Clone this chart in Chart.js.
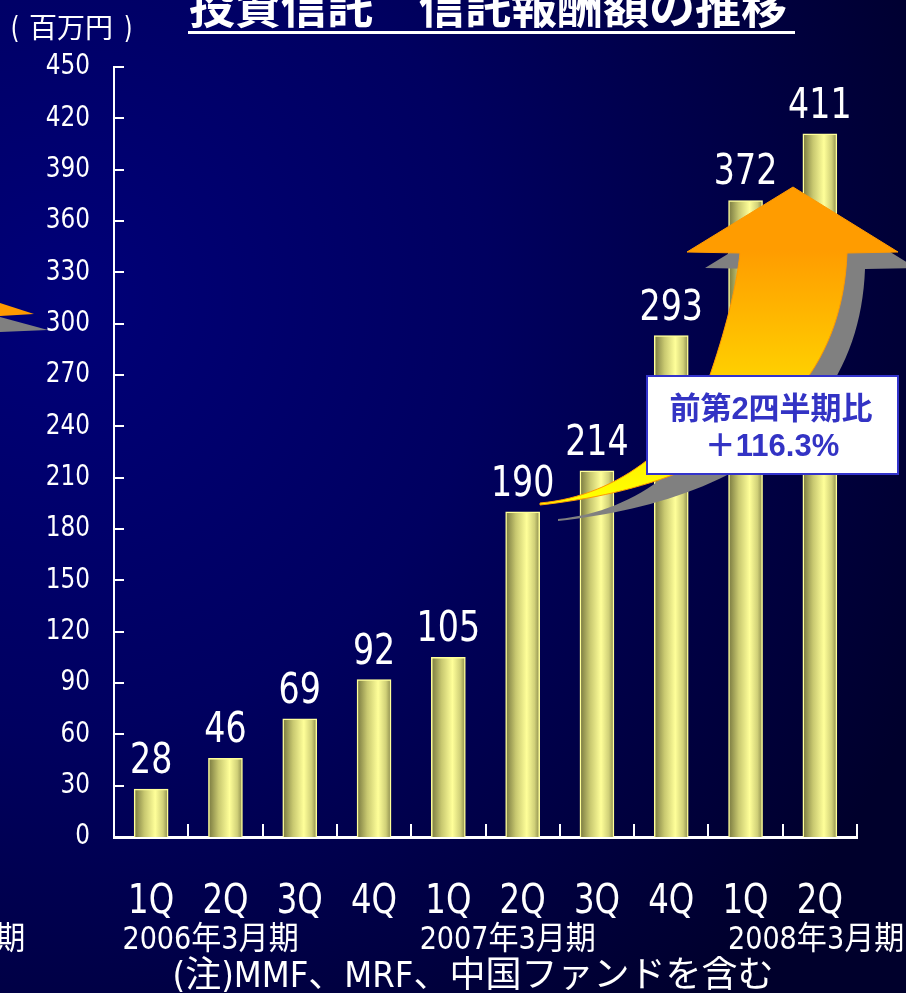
<!DOCTYPE html>
<html lang="ja">
<head>
<meta charset="utf-8">
<title>投資信託 信託報酬額の推移</title>
<script src="https://cdn.jsdelivr.net/npm/chart.js@4/dist/chart.umd.min.js"></script>
<style>
  html, body { margin: 0; padding: 0; background: #000050; }
  #wrap { width: 906px; height: 993px; position: relative; }
</style>
</head>
<body>
<div id="wrap"><canvas id="fee" width="906" height="993"></canvas></div>
<script>
// quarters and trust fee amounts (million yen)
const quarters = ['1Q', '2Q', '3Q', '4Q', '1Q', '2Q', '3Q', '4Q', '1Q', '2Q'];
const feeValues = [28, 46, 69, 92, 105, 190, 214, 293, 372, 411];
const yTicks = [0, 30, 60, 90, 120, 150, 180, 210, 240, 270, 300, 330, 360, 390, 420, 450];
// fiscal year captions, anchored at category positions
const fiscalYears = ['2005年3月期', '2006年3月期', '2007年3月期', '2008年3月期'];
const fiscalYearAt = [-2.88, 0.8, 4.8, 8.95];

const NUM_FONT = '"DejaVu Sans Condensed", "Noto Sans CJK JP", sans-serif';
const JP_FONT = '"Noto Sans CJK JP", "Liberation Sans", sans-serif';

// narrow the glyphs a little, the slide used a condensed gothic
const squeezeText = (ctx, text, x, y, sx) => {
    ctx.save();
    ctx.translate(x, y);
    ctx.scale(sx, 1);
    ctx.fillText(text, 0, 0);
    ctx.restore();
};

const background = {
    id: 'background',
    beforeDraw(chart) {
        const { ctx, width, height } = chart;
        const g = ctx.createRadialGradient(60, 300, 0, 60, 300, 950);
        g.addColorStop(0, '#000078');
        g.addColorStop(0.45, '#000060');
        g.addColorStop(1, '#00002c');
        ctx.save();
        ctx.fillStyle = g;
        ctx.fillRect(0, 0, width, height);
        ctx.restore();
    }
};

// tick marks pointing into the plot, plus the y labels
const axisMarks = {
    id: 'axisMarks',
    afterDatasetsDraw(chart) {
        const { ctx, scales: { x, y } } = chart;
        ctx.save();
        ctx.strokeStyle = '#ffffff';
        ctx.lineWidth = 2;
        ctx.beginPath();
        yTicks.forEach(v => {
            const py = Math.round(y.getPixelForValue(v));
            ctx.moveTo(x.left, py);
            ctx.lineTo(x.left + 10, py);
        });
        for (let i = 0; i <= quarters.length; i++) {
            const px = Math.round(x.getPixelForValue(i - 0.5));
            ctx.moveTo(px, y.bottom);
            ctx.lineTo(px, y.bottom - 13);
        }
        ctx.stroke();

        ctx.fillStyle = '#ffffff';
        ctx.font = '28px ' + NUM_FONT;
        ctx.textAlign = 'right';
        ctx.textBaseline = 'middle';
        yTicks.forEach(v => {
            squeezeText(ctx, String(v), 90, y.getPixelForValue(v), 0.92);
        });
        ctx.restore();
    }
};

const drawArrowShape = (ctx, dx, dy) => {
    ctx.beginPath();
    ctx.moveTo(540 + dx, 503 + dy);
    ctx.bezierCurveTo(620 + dx, 496 + dy, 688 + dx, 440 + dy, 711 + dx, 372 + dy);
    ctx.bezierCurveTo(728 + dx, 322 + dy, 737 + dx, 282 + dy, 740 + dx, 253 + dy);
    ctx.lineTo(687 + dx, 252 + dy);
    ctx.lineTo(793 + dx, 187 + dy);
    ctx.lineTo(898 + dx, 252 + dy);
    ctx.lineTo(847 + dx, 253 + dy);
    ctx.bezierCurveTo(845 + dx, 305 + dy, 830 + dx, 350 + dy, 800 + dx, 388 + dy);
    ctx.bezierCurveTo(740 + dx, 462 + dy, 640 + dx, 494 + dy, 540 + dx, 505 + dy);
    ctx.closePath();
};

const annotations = {
    id: 'annotations',
    afterDraw(chart) {
        const { ctx, scales: { x } } = chart;
        ctx.save();

        // arrow head coming in from the left edge
        ctx.fillStyle = '#ff9900';
        ctx.beginPath();
        ctx.moveTo(0, 303); ctx.lineTo(34, 314); ctx.lineTo(0, 316); ctx.closePath();
        ctx.fill();
        ctx.fillStyle = '#808080';
        ctx.beginPath();
        ctx.moveTo(0, 317); ctx.lineTo(48, 330); ctx.lineTo(0, 332); ctx.closePath();
        ctx.fill();

        // growth arrow with its shadow
        ctx.fillStyle = '#808080';
        drawArrowShape(ctx, 18, 16);
        ctx.fill();
        const g = ctx.createLinearGradient(0, 495, 0, 250);
        g.addColorStop(0, '#ffff00');
        g.addColorStop(0.35, '#ffdd00');
        g.addColorStop(1, '#ff9c00');
        ctx.fillStyle = g;
        drawArrowShape(ctx, 0, 0);
        ctx.fill();
        ctx.strokeStyle = '#ff9900';
        ctx.lineWidth = 1;
        ctx.stroke();

        // callout box
        ctx.fillStyle = '#ffffff';
        ctx.fillRect(647, 376, 251, 98);
        ctx.strokeStyle = '#3333cc';
        ctx.lineWidth = 2;
        ctx.strokeRect(647, 376, 251, 98);
        ctx.fillStyle = '#3333c4';
        ctx.textAlign = 'center';
        ctx.textBaseline = 'middle';
        ctx.font = 'bold 31px "Liberation Sans", "Noto Sans CJK JP", sans-serif';
        ctx.fillText('前第2四半期比', 771, 410);
        ctx.fillText('＋116.3%', 772, 447);

        // value labels above the bars
        ctx.fillStyle = '#ffffff';
        ctx.textBaseline = 'alphabetic';
        ctx.font = '42px ' + NUM_FONT;
        const meta = chart.getDatasetMeta(0);
        meta.data.forEach((bar, i) => {
            squeezeText(ctx, String(feeValues[i]), bar.x, bar.y - 16, 0.88);
        });

        // quarter labels
        ctx.font = '40px ' + NUM_FONT;
        quarters.forEach((q, i) => {
            squeezeText(ctx, q, x.getPixelForValue(i), 913, 0.9);
        });

        // fiscal year labels
        ctx.font = '32px ' + NUM_FONT;
        fiscalYears.forEach((t, i) => {
            squeezeText(ctx, t, x.getPixelForValue(fiscalYearAt[i]), 949, 0.94);
        });

        // footnote
        ctx.font = '36px ' + NUM_FONT;
        ctx.fillText('(注)MMF、MRF、中国ファンドを含む', 473, 987);

        // unit and title
        ctx.font = '31px ' + NUM_FONT;
        squeezeText(ctx, '(', 15, 38, 0.8);
        squeezeText(ctx, ')', 128, 38, 0.8);
        ctx.font = '28px ' + JP_FONT;
        ctx.fillText('百万円', 71, 38);
        ctx.textAlign = 'left';
        ctx.font = 'bold 46px ' + JP_FONT;
        ctx.fillText('投資信託　信託報酬額の推移', 189, 23);
        ctx.fillRect(188, 31, 607, 3);

        ctx.restore();
    }
};

const barFill = (c) => {
    const chart = c.chart;
    if (!chart.chartArea || c.type !== 'data') return '#e8e88a';
    const cx = chart.scales.x.getPixelForValue(c.dataIndex);
    const g = chart.ctx.createLinearGradient(cx - 17, 0, cx + 17, 0);
    g.addColorStop(0, '#77773f');
    g.addColorStop(0.3, '#c8c870');
    g.addColorStop(0.62, '#ffff99');
    g.addColorStop(0.85, '#d0d078');
    g.addColorStop(1, '#8a8a4c');
    return g;
};

new Chart(document.getElementById('fee'), {
    type: 'bar',
    data: {
        labels: quarters,
        datasets: [{
            data: feeValues,
            backgroundColor: barFill,
            borderColor: '#ffff99',
            borderWidth: 1.5,
            borderSkipped: 'bottom',
            barThickness: 34
        }]
    },
    options: {
        responsive: false,
        animation: false,
        events: [],
        layout: { padding: { top: 67, right: 49, left: 0, bottom: 0 } },
        plugins: { legend: { display: false }, tooltip: { enabled: false } },
        scales: {
            x: {
                offset: true,
                grid: { display: false },
                border: { display: true, color: '#ffffff', width: 3 },
                ticks: { display: false },
                afterFit: (s) => { s.height = 156; }
            },
            y: {
                min: 0,
                max: 450,
                grid: { display: false },
                border: { display: true, color: '#ffffff', width: 2 },
                afterBuildTicks: (s) => { s.ticks = yTicks.map(v => ({ value: v })); },
                ticks: { display: false },
                afterFit: (s) => { s.width = 114; }
            }
        }
    },
    plugins: [background, axisMarks, annotations]
});
</script>
</body>
</html>
